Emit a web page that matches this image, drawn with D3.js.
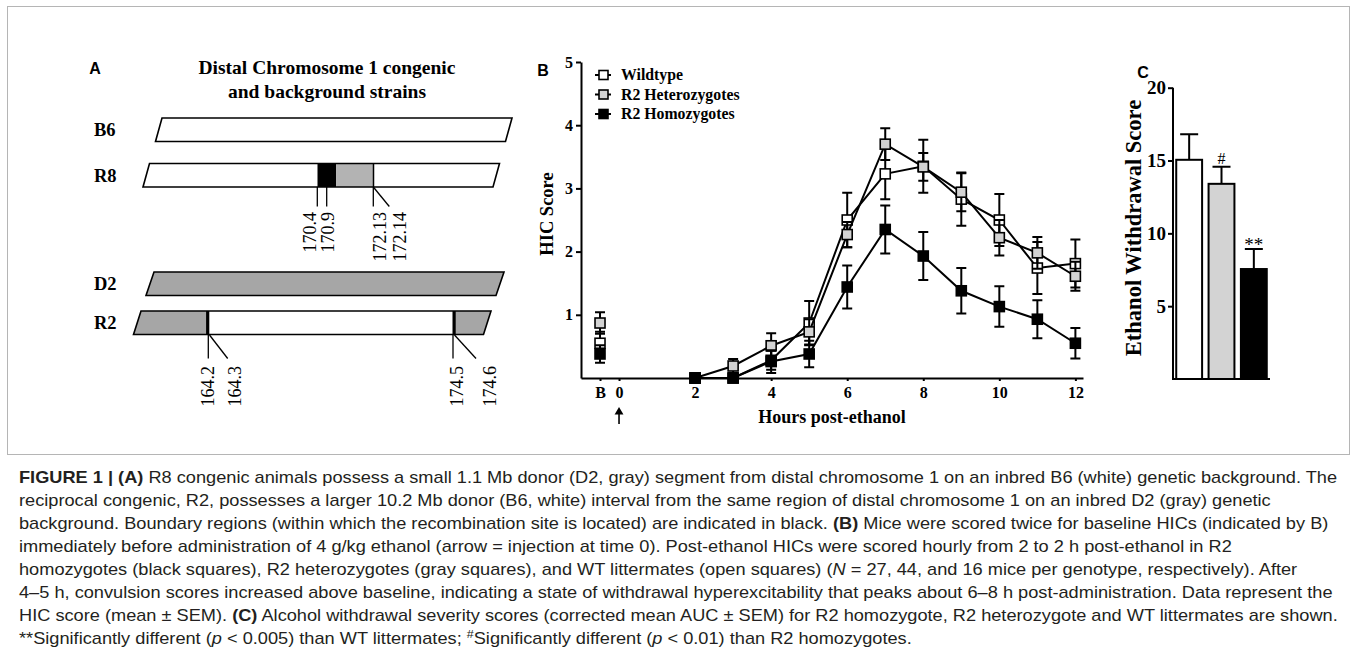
<!DOCTYPE html>
<html>
<head>
<meta charset="utf-8">
<script src="https://cdn.jsdelivr.net/npm/d3@7"></script>
<style>
body{margin:0;background:#fff}
svg{display:block}
</style>
</head>
<body>
<script>
// ---- panel B data : HIC score (mean, SEM) per hour post-ethanol ----
var hours = [2, 3, 4, 5, 6, 7, 8, 9, 10, 11, 12];
var hourTicks = [0, 2, 4, 6, 8, 10, 12];
var baselineHour = -0.5;   // position of the "B" (baseline) column
var wtMean  = [0, 0, 0.28, 0.87, 2.50, 3.23, 3.35, 2.83, 2.50, 1.74, 1.81];
var wtSem   = [0, 0, 0.15, 0.35, 0.43, 0.40, 0.42, 0.42, 0.41, 0.41, 0.38];
var hetMean = [0, 0.19, 0.51, 0.73, 2.27, 3.70, 3.34, 2.94, 2.22, 1.98, 1.61];
var hetSem  = [0, 0.11, 0.20, 0.20, 0.20, 0.25, 0.22, 0.30, 0.28, 0.25, 0.23];
var homMean = [0, 0, 0.26, 0.38, 1.44, 2.35, 1.93, 1.38, 1.13, 0.93, 0.55];
var homSem  = [0, 0, 0.18, 0.21, 0.34, 0.38, 0.38, 0.36, 0.32, 0.30, 0.24];
var baseMean = [0.55, 0.87, 0.38];   // wildtype, het, hom
var baseSem  = [0.18, 0.17, 0.14];
var genotypes = ["Wildtype", "R2 Heterozygotes", "R2 Homozygotes"];
var yTicksB = [1, 2, 3, 4, 5];

// ---- panel C data : ethanol withdrawal score ----
var aucMean = [15.05, 13.4, 7.55];
var aucSem  = [1.75, 1.17, 1.38];
var aucMarks = ["", "#", "**"];
var yTicksC = [5, 10, 15, 20];

// ---- panel A : strains and boundary markers (Mb) ----
var strains = ["B6", "R8", "D2", "R2"];
var r8Labels = ["170.4", "170.9", "172.13", "172.14"];
var r2Labels = ["164.2", "164.3", "174.5", "174.6"];

var fills = ["#ffffff", "#d3d3d3", "#000000"];
var serif = "'Liberation Serif', 'Times New Roman', serif";

var svg = d3.select("body").append("svg")
    .attr("width", 1357)
    .attr("height", 666)
    .style("font-family", serif);

//figure frame
svg.append("rect")
    .attr("x", 7.5).attr("y", 6.5)
    .attr("width", 1342).attr("height", 448)
    .attr("fill", "none")
    .attr("stroke", "#b5b5b5")
    .attr("stroke-width", 1);

//panel letters
[["A", 95, 74], ["B", 543, 76], ["C", 1143, 78]].forEach(function(p){
    svg.append("text")
        .attr("x", p[1]).attr("y", p[2])
        .attr("text-anchor", "middle")
        .style("font-family", "'Liberation Sans', Arial, sans-serif")
        .style("font-weight", "bold")
        .style("font-size", "16px")
        .text(p[0]);
});

// =================== PANEL A ===================
var gA = svg.append("g");
gA.append("text")
    .attr("x", 327).attr("y", 74)
    .attr("text-anchor", "middle")
    .style("font-weight", "bold").style("font-size", "19.5px")
    .text("Distal Chromosome 1 congenic");
gA.append("text")
    .attr("x", 327).attr("y", 98)
    .attr("text-anchor", "middle")
    .style("font-weight", "bold").style("font-size", "19.5px")
    .text("and background strains");

//bar geometry for each strain: top-left x, top y, slant
var barGeo = {
    B6: {x: 162, y: 118, slant: 6.5, base: "#ffffff"},
    R8: {x: 149.5, y: 163.5, slant: 6.5, base: "#ffffff"},
    D2: {x: 154, y: 272, slant: 8, base: "#a6a6a6"},
    R2: {x: 141, y: 311, slant: 7.5, base: "#a6a6a6"}
};
var barW = 350, barH = 23.5;

strains.forEach(function(s){
    var g = barGeo[s];
    var pos = d3.scaleLinear().domain([0, 1]).range([g.x, g.x + barW]);
    var pts = [[pos(0), g.y], [pos(1), g.y], [pos(1) - g.slant, g.y + barH], [pos(0) - g.slant, g.y + barH]];
    var clipId = "clip" + s;
    gA.append("clipPath").attr("id", clipId)
        .append("polygon").attr("points", pts.join(" "));
    gA.append("polygon").attr("points", pts.join(" ")).attr("fill", g.base);
    var inner = gA.append("g").attr("clip-path", "url(#" + clipId + ")");
    if (s == "R8"){
        inner.append("rect").attr("x", pos(0.48)).attr("y", g.y)
            .attr("width", pos(0.533) - pos(0.48)).attr("height", barH).attr("fill", "#000");
        inner.append("rect").attr("x", pos(0.533)).attr("y", g.y)
            .attr("width", pos(0.64) - pos(0.533)).attr("height", barH).attr("fill", "#b3b3b3");
        inner.append("line").attr("x1", pos(0.64)).attr("x2", pos(0.64))
            .attr("y1", g.y).attr("y2", g.y + barH).attr("stroke", "#000").attr("stroke-width", 1.5);
    }
    if (s == "R2"){
        inner.append("rect").attr("x", pos(0.19)).attr("y", g.y)
            .attr("width", pos(0.893) - pos(0.19)).attr("height", barH).attr("fill", "#fff");
        inner.append("rect").attr("x", pos(0.186)).attr("y", g.y)
            .attr("width", 3.2).attr("height", barH).attr("fill", "#000");
        inner.append("rect").attr("x", pos(0.89)).attr("y", g.y)
            .attr("width", 3.2).attr("height", barH).attr("fill", "#000");
    }
    gA.append("polygon").attr("points", pts.join(" "))
        .attr("fill", "none").attr("stroke", "#000").attr("stroke-width", 1.6);
    gA.append("text")
        .attr("x", 94).attr("y", g.y + barH / 2 + 6.5)
        .style("font-weight", "bold").style("font-size", "18.5px")
        .text(s);
});

//marker leader lines and rotated labels
function markerLabels(labels, lineX, endX, y0, y1, textX, textTop){
    labels.forEach(function(lab, i){
        gA.append("line")
            .attr("x1", lineX[i]).attr("y1", y0)
            .attr("x2", endX[i]).attr("y2", y1)
            .attr("stroke", "#000").attr("stroke-width", 1.3);
        gA.append("text")
            .attr("transform", "translate(" + (textX[i] + 6) + "," + textTop + ") rotate(-90)")
            .attr("text-anchor", "end")
            .style("font-size", "18px")
            .text(lab);
    });
}
markerLabels(r8Labels, [317.3, 326.7, 373.3, 373.3], [317.3, 326.7, 373.3, 389.3],
    187, 206.5, [310, 328, 380, 400], 212);
markerLabels(r2Labels, [208.3, 209.5, 453, 454.5], [208.3, 227.7, 453, 476],
    335, 358.5, [208, 235, 457, 490], 366);

// =================== PANEL B ===================
var gB = svg.append("g");
var xB = d3.scaleLinear().domain([-1, 12.2]).range([581, 1083]);
var yB = d3.scaleLinear().domain([0, 5]).range([378, 62]);

var yAxisB = gB.append("g")
    .attr("transform", "translate(581,0)")
    .call(d3.axisLeft(yB).tickValues(yTicksB).tickFormat(d3.format("d"))
        .tickSize(5).tickSizeOuter(0).tickPadding(3));
var xAxisB = gB.append("g")
    .attr("transform", "translate(0,378)")
    .call(d3.axisBottom(xB).tickValues([baselineHour].concat(hourTicks))
        .tickFormat(function(d){ return d < 0 ? "B" : d; })
        .tickSize(3).tickSizeOuter(0).tickPadding(6));
[yAxisB, xAxisB].forEach(function(ax){
    ax.select(".domain").attr("stroke-width", 2);
    ax.selectAll(".tick line").attr("stroke-width", 2);
    ax.selectAll("text")
        .style("font-family", serif).style("font-weight", "bold").style("font-size", "16px");
});

gB.append("text")
    .attr("transform", "translate(553,214) rotate(-90)")
    .attr("text-anchor", "middle")
    .style("font-weight", "bold").style("font-size", "18.5px")
    .text("HIC Score");
gB.append("text")
    .attr("x", 832).attr("y", 423)
    .attr("text-anchor", "middle")
    .style("font-weight", "bold").style("font-size", "18px")
    .text("Hours post-ethanol");

//injection arrow under 0
gB.append("line")
    .attr("x1", xB(0)).attr("x2", xB(0))
    .attr("y1", 424).attr("y2", 413)
    .attr("stroke", "#000").attr("stroke-width", 1.6);
gB.append("path")
    .attr("d", d3.symbol().type(d3.symbolTriangle).size(34))
    .attr("transform", "translate(" + xB(0) + ",412)")
    .attr("fill", "#000");

var means = [wtMean, hetMean, homMean];
var sems = [wtSem, hetSem, homSem];
var line = d3.line()
    .x(function(d){ return xB(d[0]); })
    .y(function(d){ return yB(d[1]); });

function errorBar(g, x, m, s, cap){
    if (!s) return;
    g.append("path")
        .attr("d", "M" + x + "," + yB(m - s) + "V" + yB(m + s) +
            "M" + (x - cap) + "," + yB(m + s) + "H" + (x + cap) +
            "M" + (x - cap) + "," + yB(m - s) + "H" + (x + cap))
        .attr("fill", "none").attr("stroke", "#000").attr("stroke-width", 2);
}
function square(g, x, y, fill){
    g.append("rect")
        .attr("x", x - 5).attr("y", y - 5)
        .attr("width", 10).attr("height", 10)
        .attr("fill", fill).attr("stroke", "#000").attr("stroke-width", 1.6);
}

genotypes.forEach(function(name, k){
    var pts = hours.map(function(h, i){ return [h, means[k][i], sems[k][i]]; });
    var g = gB.append("g");
    g.append("path").datum(pts).attr("d", line)
        .attr("fill", "none").attr("stroke", "#000").attr("stroke-width", 2);
    pts.forEach(function(p){ errorBar(g, xB(p[0]), p[1], p[2], 5); });
    errorBar(g, xB(baselineHour), baseMean[k], baseSem[k], 5);
    pts.forEach(function(p){ square(g, xB(p[0]), yB(p[1]), fills[k]); });
    square(g, xB(baselineHour), yB(baseMean[k]), fills[k]);
});

//legend
var legend = gB.append("g");
genotypes.forEach(function(name, k){
    var ly = 75 + k * 19.5;
    legend.append("line").attr("x1", 595).attr("x2", 611).attr("y1", ly).attr("y2", ly)
        .attr("stroke", "#000").attr("stroke-width", 2);
    legend.append("rect").attr("x", 599).attr("y", ly - 4.5).attr("width", 9).attr("height", 9)
        .attr("fill", fills[k]).attr("stroke", "#000").attr("stroke-width", 1.6);
    legend.append("text").attr("x", 621).attr("y", ly + 5)
        .style("font-weight", "bold").style("font-size", "15.8px")
        .text(name);
});

// =================== PANEL C ===================
var gC = svg.append("g");
var xC = d3.scaleBand().domain(genotypes).range([1173, 1270]).paddingInner(0.2).paddingOuter(0.1);
var yC = d3.scaleLinear().domain([0, 20]).range([379, 87.7]);

gC.selectAll(".bar")
    .data(genotypes)
    .enter()
    .append("rect")
    .attr("class", "bar")
    .attr("x", function(d){ return xC(d); })
    .attr("y", function(d, i){ return yC(aucMean[i]); })
    .attr("width", xC.bandwidth())
    .attr("height", function(d, i){ return yC(0) - yC(aucMean[i]); })
    .attr("fill", function(d, i){ return fills[i]; })
    .attr("stroke", "#000").attr("stroke-width", 2);

genotypes.forEach(function(d, i){
    var cx = xC(d) + xC.bandwidth() / 2;
    gC.append("path")
        .attr("d", "M" + cx + "," + yC(aucMean[i]) + "V" + yC(aucMean[i] + aucSem[i]) +
            "M" + (cx - 9) + "," + yC(aucMean[i] + aucSem[i]) + "H" + (cx + 9))
        .attr("fill", "none").attr("stroke", "#000").attr("stroke-width", 2);
    if (aucMarks[i]){
        gC.append("text")
            .attr("x", cx).attr("y", yC(aucMean[i] + aucSem[i]) - (aucMarks[i] == "#" ? 3 : -2))
            .attr("text-anchor", "middle")
            .style("font-size", aucMarks[i] == "#" ? "16px" : "19px")
            .text(aucMarks[i]);
    }
});

var yAxisC = gC.append("g")
    .attr("transform", "translate(1173,0)")
    .call(d3.axisLeft(yC).tickValues(yTicksC).tickSize(5).tickSizeOuter(0).tickPadding(2));
yAxisC.select(".domain").attr("d", "M0," + yC(20) + "V" + yC(0)).attr("stroke-width", 2);
yAxisC.selectAll(".tick line").attr("stroke-width", 2);
yAxisC.selectAll("text")
    .style("font-family", serif).style("font-weight", "bold").style("font-size", "19px");
gC.append("line")
    .attr("x1", 1172).attr("x2", 1270).attr("y1", yC(0)).attr("y2", yC(0))
    .attr("stroke", "#000").attr("stroke-width", 2);

gC.append("text")
    .attr("transform", "translate(1141,228) rotate(-90)")
    .attr("text-anchor", "middle")
    .style("font-weight", "bold").style("font-size", "22.5px")
    .text("Ethanol Withdrawal Score");

// =================== CAPTION ===================
var captionLines = [
    [["FIGURE 1 | (A)", "b"], [" R8 congenic animals possess a small 1.1 Mb donor (D2, gray) segment from distal chromosome 1 on an inbred B6 (white) genetic background. The", ""]],
    [["reciprocal congenic, R2, possesses a larger 10.2 Mb donor (B6, white) interval from the same region of distal chromosome 1 on an inbred D2 (gray) genetic", ""]],
    [["background. Boundary regions (within which the recombination site is located) are indicated in black. ", ""], ["(B)", "b"], [" Mice were scored twice for baseline HICs (indicated by B)", ""]],
    [["immediately before administration of 4 g/kg ethanol (arrow = injection at time 0). Post-ethanol HICs were scored hourly from 2 to 2 h post-ethanol in R2", ""]],
    [["homozygotes (black squares), R2 heterozygotes (gray squares), and WT littermates (open squares) (", ""], ["N", "i"], [" = 27, 44, and 16 mice per genotype, respectively). After", ""]],
    [["4\u20135 h, convulsion scores increased above baseline, indicating a state of withdrawal hyperexcitability that peaks about 6\u20138 h post-administration. Data represent the", ""]],
    [["HIC score (mean \u00b1 SEM). ", ""], ["(C)", "b"], [" Alcohol withdrawal severity scores (corrected mean AUC \u00b1 SEM) for R2 homozygote, R2 heterozygote and WT littermates are shown.", ""]],
    [["**Significantly different (", ""], ["p", "i"], [" < 0.005) than WT littermates; ", ""], ["#", "sup"], ["Significantly different (", ""], ["p", "i"], [" < 0.01) than R2 homozygotes.", ""]]
];

var capTexts = captionLines.map(function(parts, li){
    var t = svg.append("text")
        .attr("x", 0).attr("y", 0)
        .style("font-family", "'Liberation Sans', Arial, sans-serif")
        .style("font-size", "16px")
        .attr("fill", "#231f20");
    parts.forEach(function(p){
        var ts = t.append("tspan").text(p[0]);
        if (p[1] == "b") ts.style("font-weight", "bold");
        if (p[1] == "i") ts.style("font-style", "italic");
        if (p[1] == "sup") ts.attr("baseline-shift", "super").style("font-size", "11px");
    });
    return t;
});
var squeeze = (1338 - 19) / capTexts[0].node().getComputedTextLength();
capTexts.forEach(function(t, li){
    t.attr("transform", "translate(19," + (483 + li * 23) + ") scale(" + squeeze + ",1)");
});
</script>
</body>
</html>
